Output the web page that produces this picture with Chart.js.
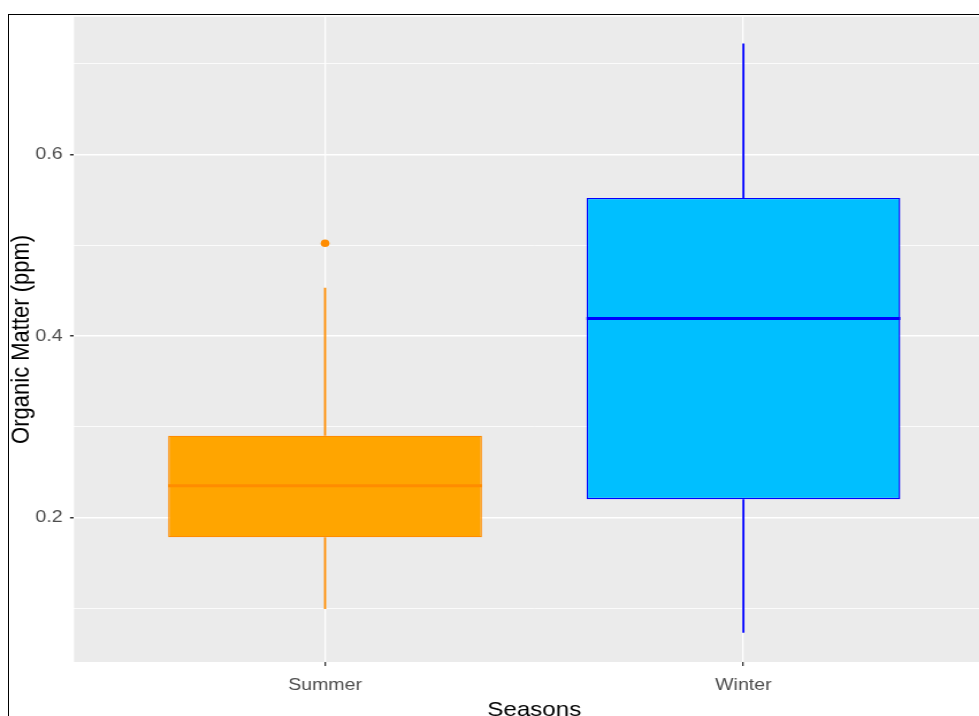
<!DOCTYPE html>
<html>
<head>
<meta charset="utf-8">
<script src="https://cdn.jsdelivr.net/npm/chart.js@4"></script>
<style>
  html, body { margin: 0; padding: 0; background: #ffffff; }
  #wrap { position: absolute; left: 0; top: 0; width: 979px; height: 716px; overflow: hidden; }
  #plot { position: absolute; left: 0; top: 0; }
  #frame { position: absolute; left: 8px; top: 14px; width: 1200px; height: 800px;
           border-left: 1px solid #000; border-top: 1px solid #000; pointer-events: none; }
</style>
</head>
<body>
<div id="wrap">
  <canvas id="plot" width="870" height="724" style="width:1000.5px;height:724px"></canvas>
  <div id="frame"></div>
</div>
<script>
// Organic matter by season: five-number summaries plus outliers
const seasons     = ['Summer', 'Winter'];
const whiskerLow  = [0.099, 0.073];
const q1          = [0.178, 0.220];
const median      = [0.235, 0.419];
const q3          = [0.290, 0.552];
const whiskerHigh = [0.453, 0.722];
const outliers    = [[0.502], []];
const yTicks      = [0.1, 0.2, 0.3, 0.4, 0.5, 0.6, 0.7];
const yLimits     = [0.0407, 0.7516];

const fillColors   = ['#FFA500', '#00BFFF'];
const strokeColors = ['#FF8C00', '#0000FF'];

const boxData = seasons.map((s, i) => ({ x: i + 1, y: [q1[i], q3[i]] }));
const outlierData = [];
const outlierColors = [];
outliers.forEach((arr, i) => arr.forEach(v => {
  outlierData.push({ x: i + 1, y: v });
  outlierColors.push(strokeColors[i]);
}));

const isMajor = v => Math.round(v * 10) % 2 === 0;

const panelBg = {
  id: 'panelBg',
  beforeDraw(chart) {
    const { ctx, chartArea: a } = chart;
    ctx.save();
    ctx.fillStyle = '#EBEBEB';
    ctx.fillRect(a.left, a.top, a.right - a.left, a.bottom - a.top);
    ctx.restore();
  }
};

// whiskers behind the boxes, medians on top
const boxParts = {
  id: 'boxParts',
  beforeDatasetsDraw(chart) {
    const { ctx, scales: { x, y } } = chart;
    ctx.save();
    ctx.lineWidth = 1.8;
    seasons.forEach((s, i) => {
      const px = x.getPixelForValue(i + 1);
      ctx.strokeStyle = strokeColors[i];
      ctx.beginPath();
      ctx.moveTo(px, y.getPixelForValue(whiskerHigh[i]));
      ctx.lineTo(px, y.getPixelForValue(q3[i]));
      ctx.moveTo(px, y.getPixelForValue(q1[i]));
      ctx.lineTo(px, y.getPixelForValue(whiskerLow[i]));
      ctx.stroke();
    });
    ctx.restore();
  },
  afterDatasetsDraw(chart) {
    const { ctx, scales: { y } } = chart;
    const meta = chart.getDatasetMeta(0);
    ctx.save();
    ctx.lineWidth = 3;
    seasons.forEach((s, i) => {
      const bar = meta.data[i];
      const half = bar.width / 2;
      const py = y.getPixelForValue(median[i]);
      ctx.strokeStyle = strokeColors[i];
      ctx.beginPath();
      ctx.moveTo(bar.x - half, py);
      ctx.lineTo(bar.x + half, py);
      ctx.stroke();
    });
    ctx.restore();
  }
};

new Chart(document.getElementById('plot'), {
  type: 'bar',
  data: {
    datasets: [
      {
        label: 'Organic Matter',
        data: boxData,
        backgroundColor: fillColors,
        borderColor: strokeColors,
        borderWidth: 1.4,
        borderSkipped: false,
        categoryPercentage: 1,
        barPercentage: 0.75,
        order: 2
      },
      {
        type: 'line',
        label: 'Outliers',
        data: outlierData,
        showLine: false,
        pointRadius: 3.8,
        pointBackgroundColor: outlierColors,
        pointBorderColor: outlierColors,
        pointBorderWidth: 0,
        order: 1
      }
    ]
  },
  options: {
    responsive: false,
    animation: false,
    devicePixelRatio: 1,
    layout: { padding: { top: 15, right: 5.7, left: 0, bottom: 0 } },
    plugins: { legend: { display: false }, tooltip: { enabled: false } },
    scales: {
      x: {
        type: 'linear',
        offset: false,
        min: 0.4,
        max: 2.6,
        afterBuildTicks(scale) { scale.ticks = seasons.map((s, i) => ({ value: i + 1 })); },
        afterFit(scale) { scale.height = 62; },
        ticks: {
          callback: v => seasons[Math.round(v) - 1],
          color: '#4D4D4D',
          font: { family: '"Liberation Sans", Arial, sans-serif', size: 17 },
          padding: 9,
          maxRotation: 0,
          autoSkip: false
        },
        grid: { offset: false, color: '#FFFFFF', lineWidth: 1.3, tickColor: '#333333', tickLength: 4 },
        border: { display: false },
        title: {
          display: true,
          text: 'Seasons',
          color: '#000000',
          font: { family: '"Liberation Sans", Arial, sans-serif', size: 21 },
          padding: { top: 0, bottom: 0.8 }
        }
      },
      y: {
        min: yLimits[0],
        max: yLimits[1],
        afterBuildTicks(scale) { scale.ticks = yTicks.map(v => ({ value: v })); },
        afterFit(scale) { scale.width = 64.35; },
        ticks: {
          callback: v => (isMajor(v) ? v.toFixed(1) : ''),
          color: '#4D4D4D',
          font: { family: '"Liberation Sans", Arial, sans-serif', size: 17 },
          padding: 6.5,
          autoSkip: false
        },
        grid: {
          color: '#FFFFFF',
          lineWidth: c => (isMajor(c.tick.value) ? 1.5 : 0.8),
          tickColor: c => (isMajor(c.tick.value) ? '#333333' : 'rgba(0,0,0,0)'),
          tickLength: 3.5
        },
        border: { display: false },
        title: {
          display: true,
          text: 'Organic Matter (ppm)',
          color: '#000000',
          font: { family: '"Liberation Sans", Arial, sans-serif', size: 22 },
          padding: { top: 6, bottom: 0 }
        }
      }
    }
  },
  plugins: [panelBg, boxParts]
});
</script>
</body>
</html>
